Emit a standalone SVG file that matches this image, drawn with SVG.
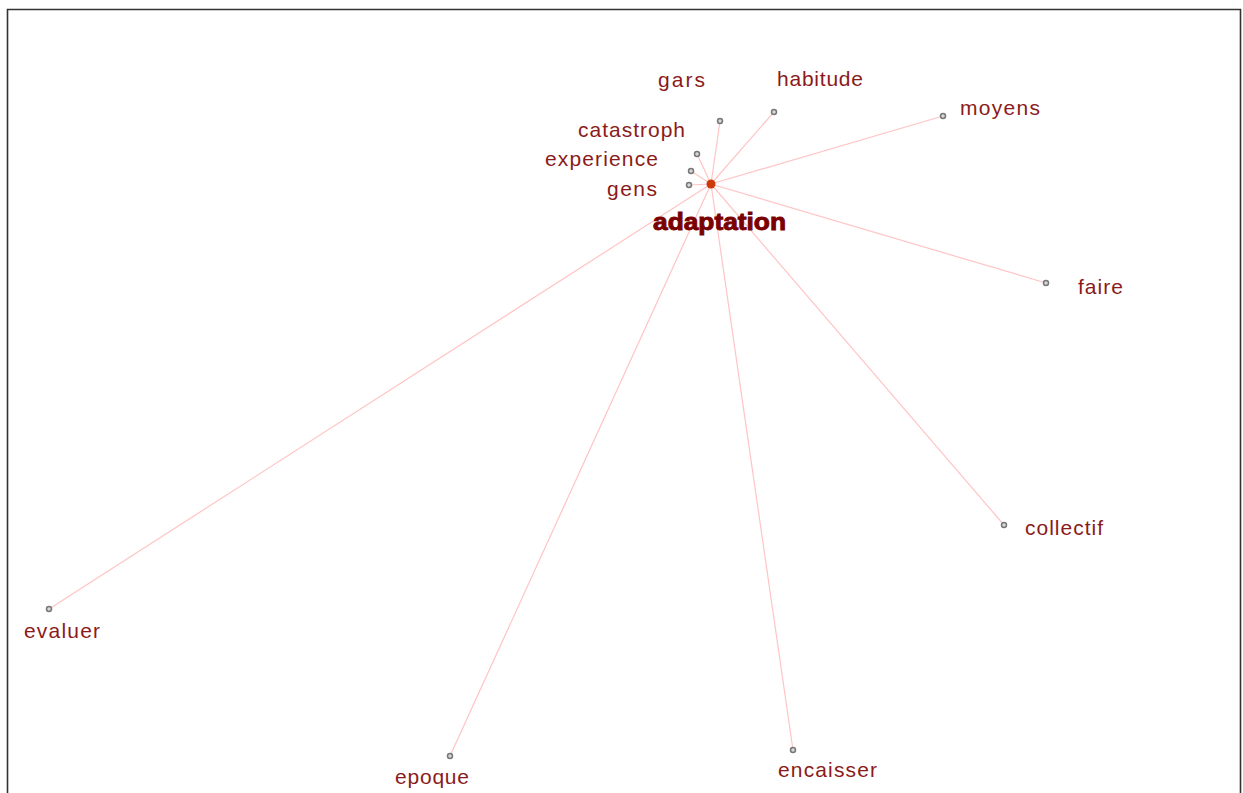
<svg xmlns="http://www.w3.org/2000/svg" width="1243" height="793" viewBox="0 0 1243 793">
<style>
.lbl{font-family:"Liberation Sans",Arial,sans-serif;font-size:21px;fill:#8b1a1a;}
.hub{font-family:"Liberation Sans",Arial,sans-serif;font-size:23px;font-weight:bold;fill:#7a0000;stroke:#7a0000;stroke-width:0.9;}
.edge{stroke:#ffc4c4;stroke-width:1.2;fill:none;}
.dot{fill:#d8d8d8;stroke:#777;stroke-width:1.5;}
</style>
<rect x="0" y="0" width="1243" height="793" fill="#fff"/>
<path d="M7.5,800 V9.5 H1240.5 V800" fill="none" stroke="#333" stroke-width="1.6"/>
<g id="connectors">
<line class="edge" x1="711" y1="184" x2="720" y2="121"/>
<line class="edge" x1="711" y1="184" x2="774" y2="112"/>
<line class="edge" x1="711" y1="184" x2="697" y2="154"/>
<line class="edge" x1="711" y1="184" x2="691" y2="171"/>
<line class="edge" x1="711" y1="184" x2="689" y2="185"/>
<line class="edge" x1="711" y1="184" x2="943" y2="116"/>
<line class="edge" x1="711" y1="184" x2="1046" y2="283"/>
<line class="edge" x1="711" y1="184" x2="1004" y2="525"/>
<line class="edge" x1="711" y1="184" x2="793" y2="750"/>
<line class="edge" x1="711" y1="184" x2="450" y2="756"/>
<line class="edge" x1="711" y1="184" x2="49" y2="609"/>
</g>
<g id="n-gars"><circle class="dot" cx="720" cy="121" r="2.5"/><text class="lbl" x="658" y="87" textLength="47">gars</text></g>
<g id="n-habitude"><circle class="dot" cx="774" cy="112" r="2.5"/><text class="lbl" x="777" y="86" textLength="86">habitude</text></g>
<g id="n-catastroph"><circle class="dot" cx="697" cy="154" r="2.5"/><text class="lbl" x="578" y="137" textLength="107">catastroph</text></g>
<g id="n-experience"><circle class="dot" cx="691" cy="171" r="2.5"/><text class="lbl" x="545" y="166" textLength="113">experience</text></g>
<g id="n-gens"><circle class="dot" cx="689" cy="185" r="2.5"/><text class="lbl" x="607" y="196" textLength="50">gens</text></g>
<g id="n-moyens"><circle class="dot" cx="943" cy="116" r="2.5"/><text class="lbl" x="960" y="115" textLength="80">moyens</text></g>
<g id="n-faire"><circle class="dot" cx="1046" cy="283" r="2.5"/><text class="lbl" x="1078" y="294" textLength="45">faire</text></g>
<g id="n-collectif"><circle class="dot" cx="1004" cy="525" r="2.5"/><text class="lbl" x="1025" y="535" textLength="78">collectif</text></g>
<g id="n-encaisser"><circle class="dot" cx="793" cy="750" r="2.5"/><text class="lbl" x="778" y="777" textLength="99">encaisser</text></g>
<g id="n-epoque"><circle class="dot" cx="450" cy="756" r="2.5"/><text class="lbl" x="395" y="784" textLength="74">epoque</text></g>
<g id="n-evaluer"><circle class="dot" cx="49" cy="609" r="2.5"/><text class="lbl" x="24" y="638" textLength="76">evaluer</text></g>
<g id="n-adaptation"><circle cx="711" cy="184" r="4.5" fill="#cc3a0a"/><text class="hub" x="653" y="230" textLength="133" lengthAdjust="spacingAndGlyphs">adaptation</text></g>
</svg>
